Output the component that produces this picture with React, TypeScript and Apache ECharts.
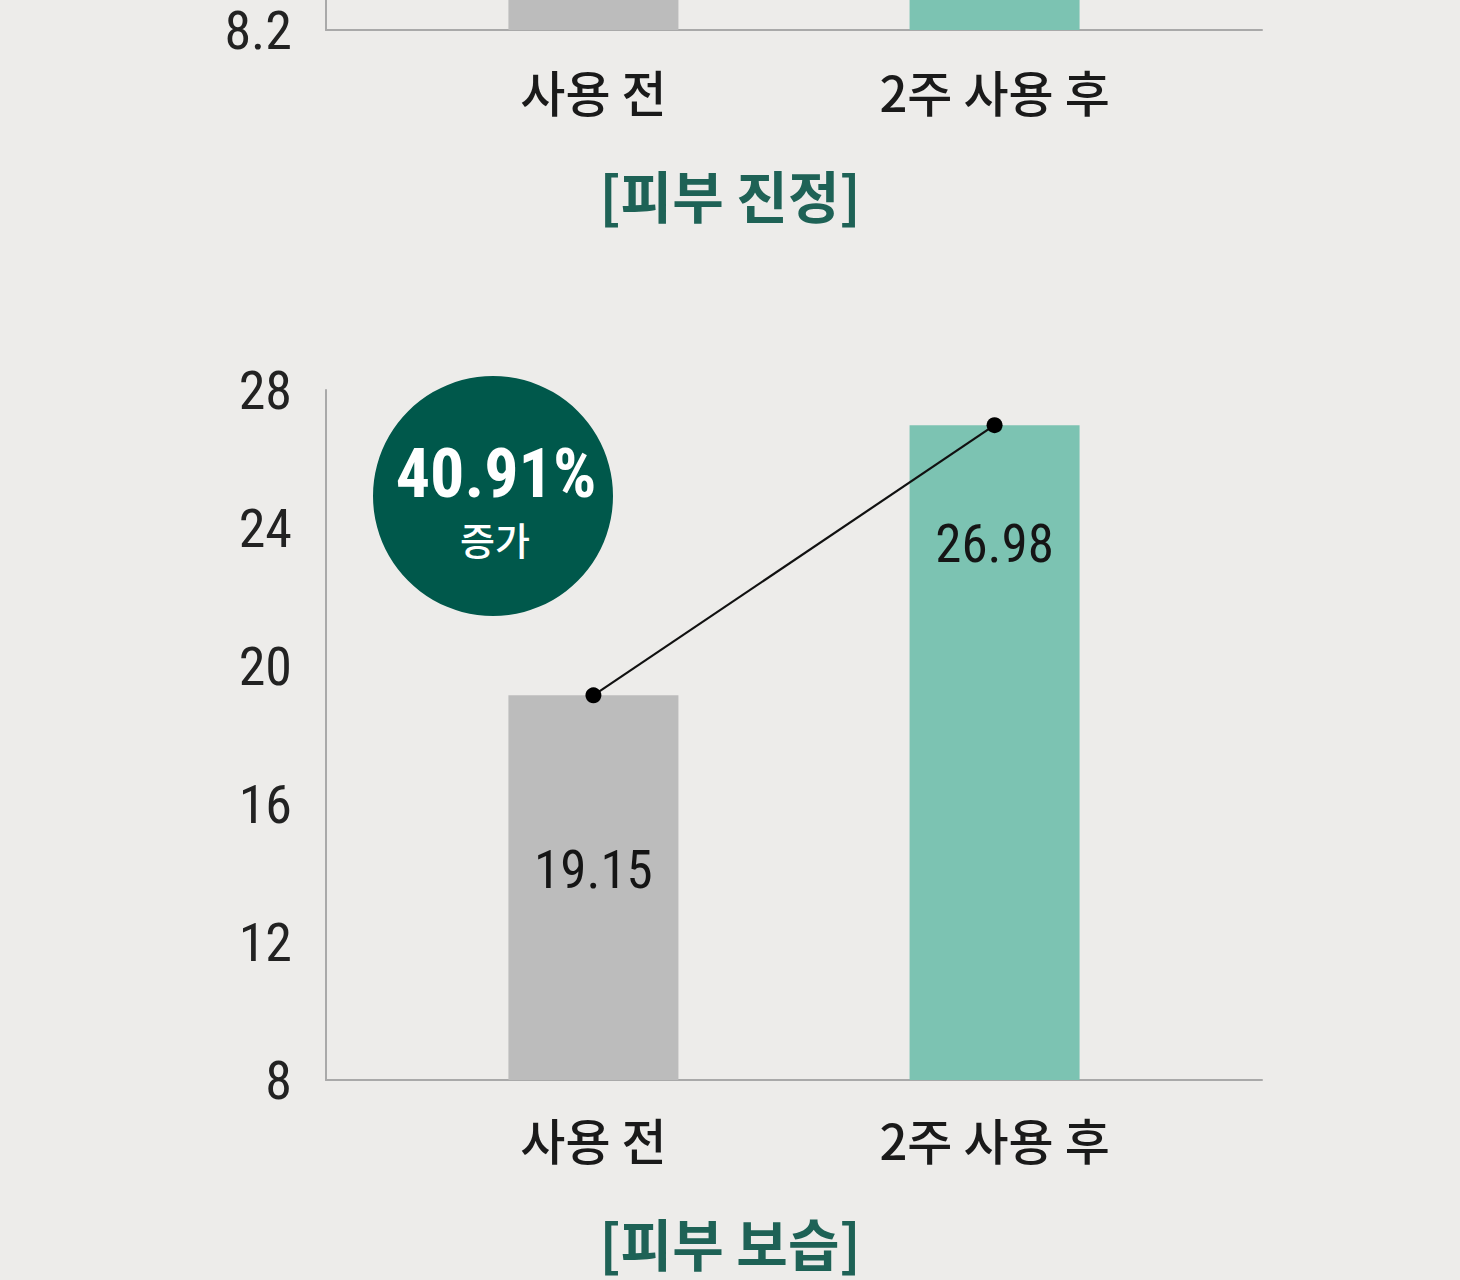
import React, { useEffect, useRef } from "react";
import * as echarts from "echarts";

const categories = ["사용 전", "2주 사용 후"];
const categoryPositions = [2, 5];
const moistureValues = [19.15, 26.98];
const soothingValues = [9.4, 9.7];
const moistureAxis = { min: 8, max: 28, interval: 4 };
const soothingAxis = { min: 8.2, max: 10.2, interval: 0.2 };
const badgeValue = "40.91%";
const badgeSub = "증가";
const titles = ["[피부 진정]", "[피부 보습]"];

const barColors = ["#BCBCBC", "#7CC3B2"];
const NUM_FONT = "'Liberation Sans Narrow', 'Roboto Condensed', Roboto, sans-serif";
const KR_FONT = "'Noto Sans CJK KR', 'Noto Sans', sans-serif";
// the canvas starts above the page so that the upper chart is cropped like the reference
const SHIFT = 700;

export default function App() {
  const ref = useRef<HTMLDivElement>(null);
  useEffect(() => {
    if (!ref.current) return;
    const chart = echarts.init(ref.current, undefined, { renderer: "svg" });
    const xLabel = (v: number) => {
      const i = categoryPositions.indexOf(v);
      return i >= 0 ? categories[i] : "";
    };
    const mkX = (gridIndex: number, margin: number) => ({
      type: "value" as const,
      gridIndex,
      min: 0,
      max: 7,
      interval: 1,
      splitLine: { show: false },
      axisTick: { show: false },
      axisLine: { show: true, lineStyle: { color: "#A9A9A9", width: 2 } },
      axisLabel: {
        formatter: xLabel,
        margin,
        fontFamily: KR_FONT,
        fontSize: 49,
        fontWeight: 500,
        color: "#1A1A1A",
      },
    });
    const yLabelStyle = {
      margin: 34,
      fontFamily: NUM_FONT,
      fontSize: 54,
      color: "#222222",
    };
    const option = {
      animation: false,
      backgroundColor: "#EDECEA",
      grid: [
        { left: 326, right: 198, top: 0, height: SHIFT + 30 },
        { left: 326, right: 198, top: SHIFT + 390, height: 690 },
      ],
      xAxis: [mkX(0, 36), mkX(1, 34)],
      yAxis: [
        {
          type: "value",
          gridIndex: 0,
          ...soothingAxis,
          splitLine: { show: false },
          axisTick: { show: false },
          axisLine: { show: true, lineStyle: { color: "#A9A9A9", width: 2 } },
          axisLabel: {
            ...yLabelStyle,
            // only the bottom tick of the cropped upper chart is within the page
            formatter: (v: number) =>
              Math.abs(v - soothingAxis.min) < 1e-6 ? v.toFixed(1) : "",
          },
        },
        {
          type: "value",
          gridIndex: 1,
          ...moistureAxis,
          splitLine: { show: false },
          axisTick: { show: false },
          axisLine: { show: true, lineStyle: { color: "#A9A9A9", width: 2 } },
          axisLabel: { ...yLabelStyle },
        },
      ],
      title: titles.map((t, i) => ({
        text: t,
        left: "center",
        top: SHIFT + (i === 0 ? 160 : 1208),
        textStyle: {
          fontFamily: KR_FONT,
          fontSize: 56,
          fontWeight: "bold",
          color: "#1E6256",
        },
      })),
      series: [
        {
          type: "bar",
          xAxisIndex: 0,
          yAxisIndex: 0,
          barWidth: 170,
          data: soothingValues.map((v, i) => [categoryPositions[i], v]),
          itemStyle: { color: (p: any) => barColors[p.dataIndex] },
        },
        {
          type: "bar",
          xAxisIndex: 1,
          yAxisIndex: 1,
          barWidth: 170,
          data: moistureValues.map((v, i) => ({
            value: [categoryPositions[i], v],
            label: { distance: i === 0 ? 148 : 92 },
          })),
          itemStyle: { color: (p: any) => barColors[p.dataIndex] },
          label: {
            show: true,
            position: "insideTop",
            formatter: (p: any) => p.value[1].toFixed(2),
            fontFamily: NUM_FONT,
            fontSize: 53,
            color: "#151515",
          },
          z: 2,
        },
        {
          type: "line",
          xAxisIndex: 1,
          yAxisIndex: 1,
          data: moistureValues.map((v, i) => [categoryPositions[i], v]),
          symbol: "circle",
          symbolSize: 16,
          lineStyle: { color: "#111111", width: 2.2 },
          itemStyle: { color: "#000000" },
          z: 5,
        },
      ],
      graphic: [
        {
          type: "circle",
          shape: { cx: 493, cy: SHIFT + 496, r: 120 },
          style: { fill: "#00584B" },
          z: 10,
        },
        {
          type: "text",
          x: 496,
          y: SHIFT + 474,
          style: {
            text: badgeValue,
            fill: "#FFFFFF",
            font: `bold 68px ${NUM_FONT}`,
            textAlign: "center",
            textVerticalAlign: "middle",
          },
          z: 11,
        },
        {
          type: "text",
          x: 495,
          y: SHIFT + 538,
          style: {
            text: badgeSub,
            fill: "#FFFFFF",
            font: `500 38px ${KR_FONT}`,
            textAlign: "center",
            textVerticalAlign: "middle",
          },
          z: 11,
        },
      ],
    };
    chart.setOption(option as any);
    return () => chart.dispose();
  }, []);
  return (
    <div
      ref={ref}
      style={{
        position: "absolute",
        left: 0,
        top: -SHIFT,
        width: 1460,
        height: 1280 + SHIFT,
        background: "#EDECEA",
      }}
    />
  );
}
